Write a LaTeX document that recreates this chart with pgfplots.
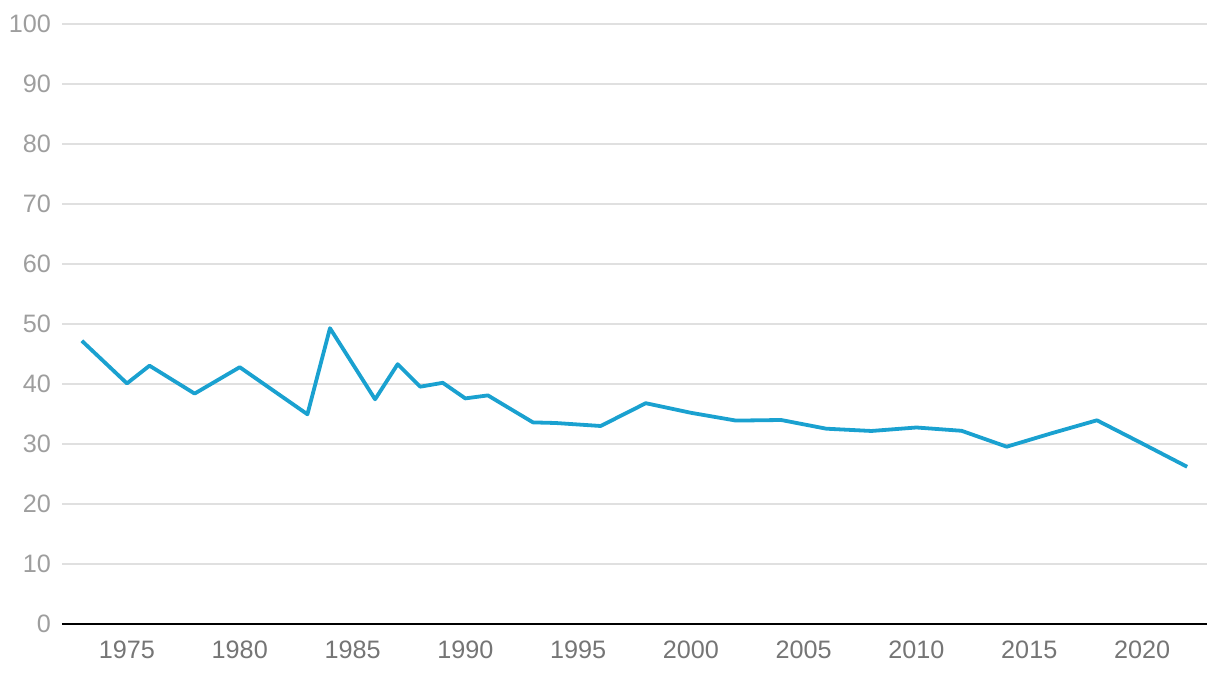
\documentclass[border=0pt]{standalone}
\usepackage{pgfplots}
\pgfplotsset{compat=1.18}
\usepackage{fontspec}
\setmainfont{Liberation Sans}
\definecolor{linec}{HTML}{1AA1D0}
\definecolor{gridc}{HTML}{E0E0E0}
\definecolor{ylab}{HTML}{9E9E9E}
\definecolor{xlab}{HTML}{757575}
\begin{document}
\begin{tikzpicture}
\begin{axis}[
  at={(0,0)}, anchor=south west,
  scale only axis, width=572.5pt, height=300pt,
  xmin=1972.12, xmax=2022.88, ymin=0, ymax=100,
  ytick={0,10,...,100},
  xtick={1975,1980,...,2020},
  xticklabel style={/pgf/number format/1000 sep={}, font=\fontsize{12.6}{13}\selectfont, color=xlab, yshift=-5pt},
  yticklabel style={font=\fontsize{12.6}{13}\selectfont, color=ylab, xshift=-2pt},
  /pgf/number format/assume math mode=true,
  axis x line*=bottom, axis y line*=left,
  x axis line style={draw=none}, y axis line style={draw=none},
  ymajorgrids, major grid style={gridc, line width=0.6pt},
  major tick length=0pt,
  ytick style={draw=none}, xtick style={draw=none},
  clip=false,
]
\addplot[linec, line width=1.9pt, line join=round, mark=none] coordinates {
(1973,47.2) (1975,40.1) (1976,43.05) (1978,38.4) (1980,42.8) (1983,34.95)
(1984,49.3) (1986,37.45) (1987,43.3) (1988,39.55) (1989,40.2) (1990,37.6)
(1991,38.1) (1993,33.6) (1994,33.5) (1996,33.0) (1998,36.8) (2000,35.2)
(2002,33.9) (2004,34.0) (2006,32.55) (2008,32.17) (2010,32.75) (2012,32.2)
(2014,29.55) (2016,31.8) (2018,33.95) (2020,30.1) (2022,26.2)
};
\draw[black, line width=1pt] (axis cs:1972.12,0) -- (axis cs:2022.88,0);
\end{axis}
\pgfresetboundingbox
\path (-31pt,-25pt) rectangle (579pt,312pt);
\end{tikzpicture}
\end{document}
